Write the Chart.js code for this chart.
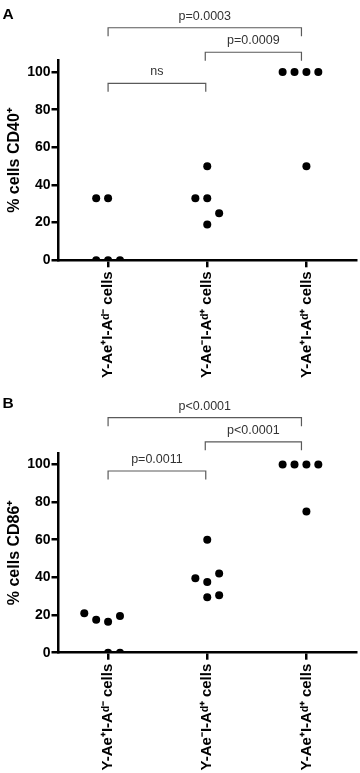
<!DOCTYPE html>
<html>
<head>
<meta charset="utf-8">
<script src="https://cdn.jsdelivr.net/npm/chart.js@4.4.1/dist/chart.umd.min.js"></script>
<style>
  html, body { margin: 0; padding: 0; background: #fff; }
  body { width: 360px; height: 773px; overflow: hidden; }
  canvas { display: block; }
</style>
</head>
<body>
<canvas id="cA" width="360" height="392"></canvas>
<canvas id="cB" width="360" height="381"></canvas>
<script>
// ---- data ----
const categories = ['Y-Ae\u207AI-A\u1D48\u207B cells', 'Y-Ae\u207BI-A\u1D48\u207A cells', 'Y-Ae\u207AI-A\u1D48\u207A cells'];
const yTicks = [0, 20, 40, 60, 80, 100];

const cd40Values = [[33, 33, 0, 0, 0], [50, 33, 33, 25, 19], [100, 100, 100, 100, 50]];
const cd40Slots  = [[-1, 0, -1, 0, 1], [0, -1, 0, 1, 0], [-2, -1, 0, 1, 0]];
const cd86Values = [[21, 17.5, 16.5, 19.5, 0, 0], [60, 39.5, 37.5, 42, 29.5, 30.5], [100, 100, 100, 100, 75]];
const cd86Slots  = [[-2, -1, 0, 1, 0, 1], [0, -1, 0, 1, 0, 1], [-2, -1, 0, 1, 0]];

const bracketPairs = [[1, 2.95], [1.98, 2.95], [1, 1.985]];
const cd40Labels = ['p=0.0003', 'p=0.0009', 'ns'];
const cd40Levels = [123.5, 110.5, 94];
const cd86Labels = ['p<0.0001', 'p<0.0001', 'p=0.0011'];
const cd86Levels = [124.8, 112, 96.5];

// ---- drawing ----
const FONT = "'Liberation Sans', Arial, Helvetica, sans-serif";
const SLOT = 0.12;

function points(values, slots) {
  const out = [];
  values.forEach((grp, gi) => grp.forEach((v, i) => out.push({ x: gi + 1 + slots[gi][i] * SLOT, y: v })));
  return out;
}

const bracketPlugin = {
  id: 'brackets',
  afterDraw(chart, args, o) {
    const { ctx } = chart;
    const x = chart.scales.x, y = chart.scales.y;
    ctx.save();
    ctx.strokeStyle = '#5a5a5a';
    ctx.lineWidth = 1.2;
    ctx.fillStyle = '#333';
    ctx.font = '12.5px ' + FONT;
    ctx.textAlign = 'center';
    ctx.textBaseline = 'middle';
    o.pairs.forEach((p, i) => {
      const x1 = x.getPixelForValue(p[0]), x2 = x.getPixelForValue(p[1]);
      const yt = y.getPixelForValue(o.levels[i]);
      const yb = y.getPixelForValue(o.levels[i] - 4.5);
      ctx.beginPath();
      ctx.moveTo(x1, yb); ctx.lineTo(x1, yt); ctx.lineTo(x2, yt); ctx.lineTo(x2, yb);
      ctx.stroke();
      ctx.fillText(o.labels[i], (x1 + x2) / 2, yt - 11.5);
    });
    ctx.fillStyle = '#000';
    ctx.font = 'bold 15.5px ' + FONT;
    ctx.textAlign = 'left';
    ctx.textBaseline = 'alphabetic';
    ctx.fillText(o.letter, 2.5, o.letterY);
    ctx.restore();
  }
};

function makeChart(id, values, slots, title, labels, levels, letter, letterY, padTop, xHeight) {
  return new Chart(document.getElementById(id), {
    type: 'scatter',
    data: {
      datasets: [{
        data: points(values, slots),
        pointRadius: 4,
        pointHoverRadius: 4,
        pointBackgroundColor: '#000',
        pointBorderWidth: 0,
        clip: 0
      }]
    },
    options: {
      responsive: false,
      animation: false,
      events: [],
      layout: { padding: { top: padTop, right: 3, left: 0, bottom: 0 } },
      plugins: {
        legend: { display: false },
        tooltip: { enabled: false },
        brackets: { pairs: bracketPairs, labels: labels, levels: levels, letter: letter, letterY: letterY }
      },
      scales: {
        x: {
          type: 'linear',
          min: 0.5, max: 3.5,
          afterBuildTicks: s => { s.ticks = [1, 2, 3].map(v => ({ value: v })); },
          afterFit: s => { s.height = xHeight; },
          border: { display: true, color: '#000', width: 2.5 },
          grid: { drawOnChartArea: false, color: '#000', lineWidth: 2.5, tickLength: 7, tickColor: '#000' },
          ticks: {
            autoSkip: false, minRotation: 90, maxRotation: 90, padding: 4,
            color: '#000', font: { family: FONT, size: 15, weight: 'bold' },
            callback: v => categories[v - 1]
          }
        },
        y: {
          min: 0, max: 106,
          afterBuildTicks: s => { s.ticks = yTicks.map(v => ({ value: v })); },
          afterFit: s => { s.width = 58.5; },
          border: { display: true, color: '#000', width: 2.5 },
          grid: { drawOnChartArea: false, color: '#000', lineWidth: 2.5, tickLength: 7, tickColor: '#000' },
          ticks: { padding: 1, color: '#000', font: { family: FONT, size: 14, weight: 'bold' } },
          title: {
            display: true, text: title, color: '#000', padding: { top: 5, bottom: 0 },
            font: { family: FONT, size: 16, weight: 'bold' }
          }
        }
      }
    },
    plugins: [bracketPlugin]
  });
}

makeChart('cA', cd40Values, cd40Slots, '% cells CD40\u207A', cd40Labels, cd40Levels, 'A', 19.3, 60.7, 131.7);
makeChart('cB', cd86Values, cd86Slots, '% cells CD86\u207A', cd86Labels, cd86Levels, 'B', 15.7, 61.1, 120.3);
</script>
</body>
</html>
